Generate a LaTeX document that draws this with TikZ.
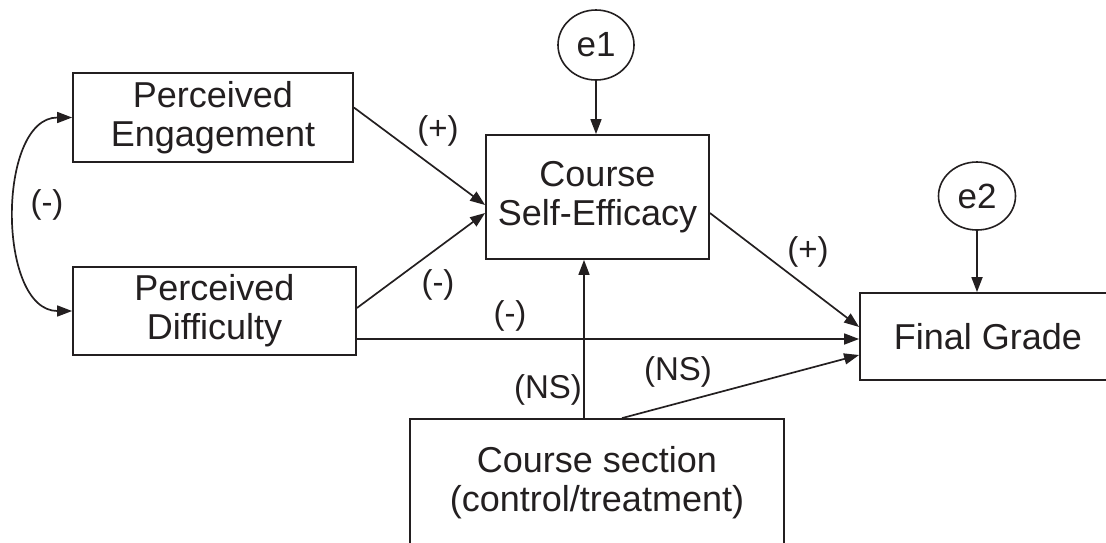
\documentclass[tikz,border=0pt]{standalone}
\usepackage{fontspec}
\setmainfont{Liberation Sans}
\usetikzlibrary{arrows.meta,calc,shapes.geometric}
\definecolor{ink}{HTML}{231F20}
\tikzset{
  box/.style={draw=ink, line width=1.8pt, rectangle, align=center, inner sep=0pt,
    font=\fontsize{36}{39}\selectfont, text=ink},
  err/.style={draw=ink, line width=1.6pt, ellipse, inner sep=0pt,
    font=\fontsize{35}{38}\selectfont, text=ink},
  lbl/.style={font=\fontsize{33}{36}\selectfont, text=ink, inner sep=0pt},
  arr/.style={draw=ink, line width=1.7pt, -{Triangle[length=15pt,width=11pt]}},
}
\begin{document}
\begin{tikzpicture}[x=1pt,y=-1pt]
\useasboundingbox (0,0) rectangle (1106,542);
\clip (0,0) rectangle (1106,542);
% boxes
\node[box, minimum width=280pt, minimum height=89pt] (pe) at (213,117.5) {Perceived\\Engagement};
\node[box, minimum width=283pt, minimum height=88pt] (pd) at (214.5,311) {Perceived\\Difficulty};
\node[box, minimum width=223pt, minimum height=124pt] (se) at (597.5,197) {Course\\Self-Efficacy};
\node[box, minimum width=256pt, minimum height=87pt] (fg) at (988,336.5) {Final Grade};
\node[box, minimum width=374pt, minimum height=128pt] (cs) at (597,483) {Course section\\(control/treatment)};
% error terms
\node[err, minimum width=76pt, minimum height=70pt] (e1) at (596,45) {e1};
\node[err, minimum width=77pt, minimum height=68pt] (e2) at (977,196) {e2};
% connectors
\draw[draw=ink, line width=1.7pt, {Triangle[length=15pt,width=11pt]}-{Triangle[length=15pt,width=11pt]}]
  (pe.west) to[out=180, in=180, looseness=1.0] (pd.west);
\draw[arr] ([yshift=10pt]pe.east) -- ([yshift=-8pt]se.west);
\draw[arr] ([yshift=3pt]pd.east) -- ([yshift=-16pt]se.west);
\coordinate (h) at ([yshift=-28pt]pd.east);
\draw[arr] (h) -- (h -| fg.west);
\draw[arr] ([yshift=-16pt]se.east) -- ([yshift=9.5pt]fg.west);
\coordinate (v) at ([xshift=-13pt]cs.north);
\draw[arr] (v) -- (v |- se.south);
\draw[arr] ([xshift=25pt]cs.north) -- ([yshift=-18.5pt]fg.west);
\draw[arr] (e1.south) -- (e1.south |- se.north);
\draw[arr] (e2.south) -- (e2.south |- fg.north);
% labels
\node[lbl] (l1) at (47,205) {(-)};
\node[lbl] (l2) at (438,131) {(+)};
\node[lbl] (l3) at (438,285) {(-)};
\node[lbl] (l4) at (510,316) {(-)};
\node[lbl] (l5) at (808,252) {(+)};
\node[lbl] (l6) at (548,390) {(NS)};
\node[lbl] (l7) at (678,372) {(NS)};
\end{tikzpicture}
\end{document}
